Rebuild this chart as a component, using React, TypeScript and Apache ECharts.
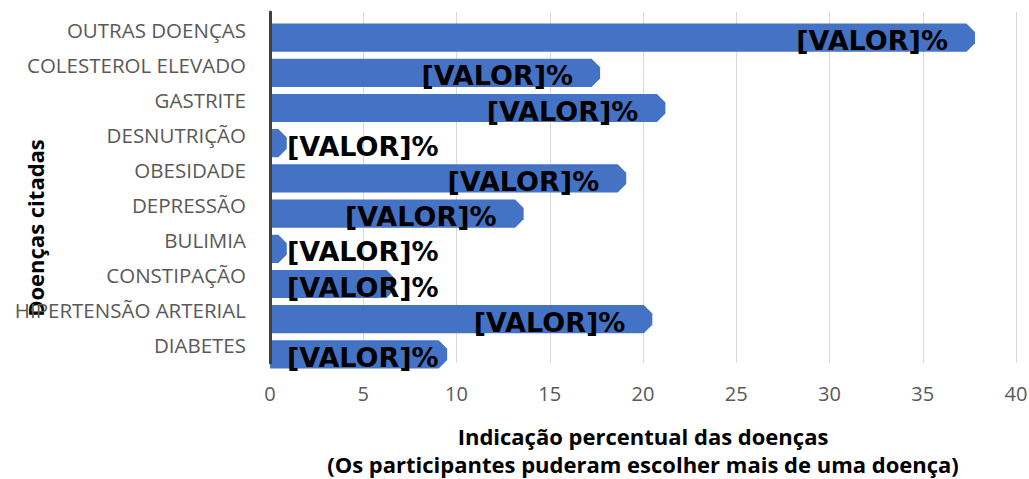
import React, { useEffect, useRef } from "react";
import * as echarts from "echarts";

const categories = [
  "DIABETES",
  "HIPERTENSÃO ARTERIAL",
  "CONSTIPAÇÃO",
  "BULIMIA",
  "DEPRESSÃO",
  "OBESIDADE",
  "DESNUTRIÇÃO",
  "GASTRITE",
  "COLESTEROL ELEVADO",
  "OUTRAS DOENÇAS",
];
const values = [9.5, 20.5, 6.7, 0.9, 13.6, 19.1, 0.9, 21.2, 17.7, 37.8];
const labelText = "[VALOR]%";
const xTitle = "Indicação percentual das doenças\n(Os participantes puderam escolher mais de uma doença)";
const yTitle = "Doenças citadas";

const LABEL_FONT = "bold 27px 'DejaVu Sans'";

function measure(text: string, font: string): number {
  const c = document.createElement("canvas");
  const ctx = c.getContext("2d");
  if (!ctx) return 146;
  ctx.font = font;
  return ctx.measureText(text).width;
}

export default function App() {
  const ref = useRef<HTMLDivElement>(null);
  useEffect(() => {
    if (!ref.current) return;
    const chart = echarts.init(ref.current, null, { renderer: "svg" });
    const labelW = measure(labelText, LABEL_FONT);
    chart.setOption({
      animation: false,
      backgroundColor: "#ffffff",
      grid: [
        { left: 270, right: 13, top: 12, bottom: 116, containLabel: false, outerBoundsMode: "none" },
        { left: 270, right: 13, top: 20, bottom: 107, containLabel: false, outerBoundsMode: "none" },
      ],
      xAxis: [
        {
          gridIndex: 0,
          type: "value",
          min: 0,
          max: 40,
          interval: 5,
          axisLine: { show: false },
          axisTick: { show: false },
          splitLine: { show: true, lineStyle: { color: "#d9d9d9", width: 1 } },
          axisLabel: { color: "#595959", fontSize: 20, fontFamily: "Open Sans", margin: 20 },
          name: xTitle,
          nameLocation: "middle",
          nameGap: 59,
          nameTextStyle: {
            color: "#000000",
            fontSize: 22,
            fontWeight: "bold",
            fontFamily: "Open Sans",
            lineHeight: 28,
          },
        },
        { gridIndex: 1, type: "value", min: 0, max: 40, show: false },
      ],
      yAxis: [
        {
          gridIndex: 0,
          type: "category",
          data: categories,
          z: 10,
          axisLine: { show: true, lineStyle: { color: "#404040", width: 3 } },
          axisTick: { show: false },
          axisLabel: { color: "#595959", fontSize: 20.5, fontFamily: "Open Sans", margin: 24 },
        },
        { gridIndex: 1, type: "category", data: categories, show: false },
      ],
      graphic: [
        {
          type: "text",
          x: 35,
          y: 228,
          rotation: Math.PI / 2,
          style: {
            text: yTitle,
            fill: "#000000",
            font: "bold 22px 'Open Sans'",
            align: "center",
            verticalAlign: "middle",
          },
        },
      ],
      series: [
        {
          type: "custom",
          xAxisIndex: 1,
          yAxisIndex: 1,
          data: values.map((v, i) => [v, i]),
          encode: { x: 0, y: 1 },
          renderItem: (params: any, api: any) => {
            const idx = api.value(1);
            const val = api.value(0);
            const s = api.coord([0, idx]);
            const e = api.coord([val, idx]);
            const band = api.size([0, 1])[1];
            const h = band * 0.8;
            const x0 = s[0];
            const x1 = e[0];
            const y0 = s[1] - h / 2;
            const y1 = s[1] + h / 2;
            const c = Math.min(8.5, x1 - x0);
            const textRight = Math.max(x1 - 27, x0 + 17 + labelW);
            return {
              type: "group",
              children: [
                {
                  type: "polygon",
                  shape: {
                    points: [
                      [x0, y0],
                      [x1 - c, y0],
                      [x1, y0 + c],
                      [x1, y1 - c],
                      [x1 - c, y1],
                      [x0, y1],
                    ],
                  },
                  style: { fill: "#4472c4" },
                },
                {
                  type: "text",
                  x: textRight,
                  y: s[1] + 3,
                  style: {
                    text: labelText,
                    font: LABEL_FONT,
                    fill: "#000000",
                    align: "right",
                    verticalAlign: "middle",
                  },
                },
              ],
            };
          },
        },
      ],
    });
    return () => chart.dispose();
  }, []);
  return (
    <div
      ref={ref}
      style={{ position: "absolute", left: 0, top: 0, width: 1029, height: 479 }}
    />
  );
}
